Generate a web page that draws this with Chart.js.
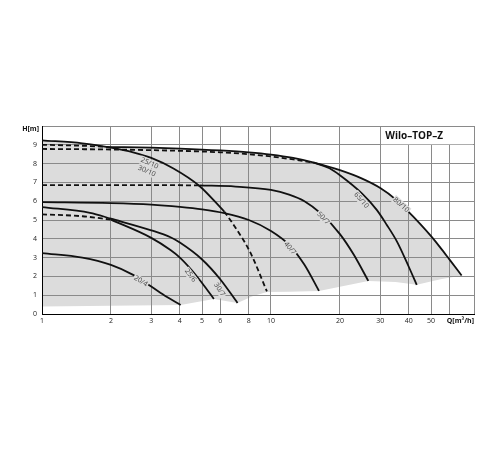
<!DOCTYPE html>
<html>
<head>
<meta charset="utf-8">
<script src="https://cdn.jsdelivr.net/npm/chart.js@4.4.0/dist/chart.umd.min.js"></script>
<style>
  html, body { margin: 0; padding: 0; background: #fff; }
</style>
</head>
<body>
<canvas id="pump" width="500" height="450"></canvas>
<script>
// Q in m³/h, H in m
const xTicks = [1, 2, 3, 4, 5, 6, 8, 10, 20, 30, 40, 50, 60, 77];
const xTickLabels = ['1', '2', '3', '4', '5', '6', '8', '10', '20', '30', '40', '50', '', ''];
const yTickLabels = ['0', '1', '2', '3', '4', '5', '6', '7', '8', '9', ''];

const q25_10 = [1, 1.5, 2, 2.5, 3, 3.75, 4.87, 6.25];
const h25_10 = [9.24, 9.08, 8.85, 8.6, 8.3, 7.74, 6.81, 5.45];
const q30_10 = [6.25, 6.87, 8.1, 9.6];
const h30_10 = [5.45, 4.74, 3.3, 1.2];

const q80_10a = [1, 1.5, 2];
const h80_10a = [9.0, 8.95, 8.88];
const q80_10 = [2, 3, 4, 6, 8, 10, 12.5, 15.4, 20, 25, 30, 35, 39, 45, 50, 55, 60, 68];
const h80_10 = [8.88, 8.85, 8.8, 8.7, 8.6, 8.48, 8.3, 8.05, 7.65, 7.2, 6.7, 6.1, 5.55, 4.77, 4.14, 3.52, 2.92, 2.05];

const q65_10a = [1, 2, 4, 6, 8, 10, 12.5, 15.4];
const h65_10a = [8.78, 8.75, 8.68, 8.6, 8.5, 8.38, 8.22, 8.05];
const q65_10 = [15.4, 18, 20, 25, 28.9, 32, 35.5, 40, 43.3];
const h65_10 = [8.05, 7.75, 7.38, 6.4, 5.55, 4.75, 3.85, 2.5, 1.55];

const q50_7a = [1, 2, 3, 4.87];
const h50_7a = [6.85, 6.86, 6.86, 6.84];
const q50_7 = [4.87, 7, 10, 12, 14, 16.5, 20, 23, 26.6];
const h50_7 = [6.84, 6.78, 6.6, 6.35, 6.0, 5.35, 4.25, 3.15, 1.76];

const q40_7 = [1, 2, 3, 4, 5, 6.25, 8, 10, 12, 14, 16.2];
const h40_7 = [5.95, 5.9, 5.82, 5.7, 5.57, 5.37, 5.0, 4.42, 3.68, 2.62, 1.23];

const q30_7 = [1, 1.62, 2, 3, 3.64, 4, 5, 6, 7.14];
const h30_7 = [5.69, 5.38, 5.07, 4.45, 4.08, 3.8, 2.9, 1.85, 0.59];

const q25_6a = [1, 1.5, 2];
const h25_6a = [5.3, 5.2, 5.02];
const q25_6 = [2, 3, 3.64, 4, 4.5, 5, 5.63];
const h25_6 = [5.02, 4.05, 3.4, 3.0, 2.34, 1.65, 0.8];

const q20_4 = [1, 1.5, 2, 2.5, 3, 3.5, 4.03];
const h20_4 = [3.24, 3.0, 2.61, 2.08, 1.46, 0.92, 0.48];

// lower edge of the grey working area
const qFloor = [1, 4.03, 5.63, 7.14, 8.3, 9.6, 12, 16.2, 20, 26.6, 35, 43.3, 55, 68];
const hFloor = [0.4, 0.48, 0.8, 0.59, 0.95, 1.17, 1.18, 1.23, 1.45, 1.76, 1.7, 1.55, 1.85, 2.05];

const pts = (q, h) => q.map((v, i) => ({ x: v, y: h[i] }));

const FONT = '"Open Sans", "DejaVu Sans", sans-serif';
const GREY = '#dcdcdc';

const line = (label, q, h, dash) => ({
    label: label,
    data: pts(q, h),
    borderColor: '#111',
    borderWidth: 1.8,
    borderDash: dash ? [5, 3] : [],
    pointRadius: 0,
    fill: false,
    cubicInterpolationMode: 'monotone'
});

// top of the grey area = 25/10 up to Q=2, then 80/10
const envelope = pts(q25_10, h25_10).filter(p => p.x < 2).concat(pts(q80_10, h80_10));

const curveLabels = [
    { t: '25/10', q: 2.95, h: 8.02, a: 24 },
    { t: '30/10', q: 2.87, h: 7.6, a: 24 },
    { t: '20/4', q: 2.7, h: 1.75, a: 32 },
    { t: '25/6', q: 4.45, h: 2.05, a: 53 },
    { t: '30/7', q: 5.95, h: 1.3, a: 57 },
    { t: '40/7', q: 12.1, h: 3.5, a: 50 },
    { t: '50/7', q: 16.9, h: 5.1, a: 47 },
    { t: '65/10', q: 24.8, h: 6.05, a: 50 },
    { t: '80/10', q: 37, h: 5.8, a: 42 }
];

const decor = {
    id: 'decor',
    beforeDatasetsDraw(chart) {
        const { ctx, chartArea: a, scales: { x, y } } = chart;
        const bx = x.getPixelForValue(30);
        const by = y.getPixelForValue(9);
        ctx.save();
        ctx.fillStyle = '#fff';
        ctx.fillRect(bx + 1, a.top + 1, a.right - bx - 2, by - a.top - 1.5);
        ctx.fillStyle = '#111';
        ctx.font = 'bold 10px ' + FONT;
        ctx.textBaseline = 'middle';
        ctx.textAlign = 'left';
        ctx.fillText('Wilo–TOP–Z', bx + 5, (a.top + by) / 2 + 0.5);

        ctx.font = 'bold 7px ' + FONT;
        ctx.textAlign = 'right';
        ctx.fillText('H[m]', a.left - 3, a.top + 3);
        ctx.fillText('Q[m³/h]', a.right, a.bottom + 7);
        ctx.restore();
    },
    afterDatasetsDraw(chart) {
        const { ctx, scales: { x, y } } = chart;
        ctx.save();
        ctx.font = '7px ' + FONT;
        ctx.textAlign = 'center';
        ctx.textBaseline = 'middle';
        curveLabels.forEach(l => {
            ctx.save();
            ctx.translate(x.getPixelForValue(l.q), y.getPixelForValue(l.h));
            ctx.rotate(l.a * Math.PI / 180);
            const w = ctx.measureText(l.t).width;
            ctx.fillStyle = GREY;
            ctx.fillRect(-w / 2 - 1, -4, w + 2, 8);
            ctx.fillStyle = '#444';
            ctx.fillText(l.t, 0, 0);
            ctx.restore();
        });
        ctx.restore();
    }
};

new Chart(document.getElementById('pump'), {
    type: 'line',
    data: {
        datasets: [
            { label: 'area', data: envelope, borderWidth: 0, pointRadius: 0, backgroundColor: GREY, fill: '+1', cubicInterpolationMode: 'monotone' },
            { label: 'floor', data: pts(qFloor, hFloor), borderWidth: 0, pointRadius: 0, fill: false },
            line('80/10 start', q80_10a, h80_10a, true),
            line('80/10', q80_10, h80_10, false),
            line('65/10 start', q65_10a, h65_10a, true),
            line('65/10', q65_10, h65_10, false),
            line('50/7 start', q50_7a, h50_7a, true),
            line('50/7', q50_7, h50_7, false),
            line('40/7', q40_7, h40_7, false),
            line('30/7', q30_7, h30_7, false),
            line('25/6 start', q25_6a, h25_6a, true),
            line('25/6', q25_6, h25_6, false),
            line('20/4', q20_4, h20_4, false),
            line('25/10', q25_10, h25_10, false),
            line('30/10', q30_10, h30_10, true)
        ]
    },
    options: {
        responsive: false,
        animation: false,
        devicePixelRatio: 1,
        layout: { padding: { top: 126, right: 26, bottom: 120, left: 0 } },
        plugins: {
            legend: { display: false },
            tooltip: { enabled: false },
            filler: { drawTime: 'beforeDraw' }
        },
        scales: {
            x: {
                type: 'logarithmic',
                min: 1,
                max: 77,
                afterBuildTicks: s => { s.ticks = xTicks.map(v => ({ value: v })); },
                afterFit: s => { s.height = 16; },
                ticks: {
                    autoSkip: false,
                    maxRotation: 0,
                    padding: 3,
                    color: '#222',
                    font: { size: 7, family: FONT },
                    callback: (v, i) => xTickLabels[i]
                },
                grid: { color: '#8a8a8a', lineWidth: 1, drawTicks: false },
                border: { color: '#000', width: 1 }
            },
            y: {
                min: 0,
                max: 10,
                afterFit: s => { s.width = 42; },
                ticks: {
                    stepSize: 1,
                    padding: 5,
                    color: '#222',
                    font: { size: 7, family: FONT },
                    callback: v => yTickLabels[v]
                },
                grid: { color: '#8a8a8a', lineWidth: 1, drawTicks: false },
                border: { color: '#000', width: 1 }
            }
        }
    },
    plugins: [decor]
});
</script>
</body>
</html>
